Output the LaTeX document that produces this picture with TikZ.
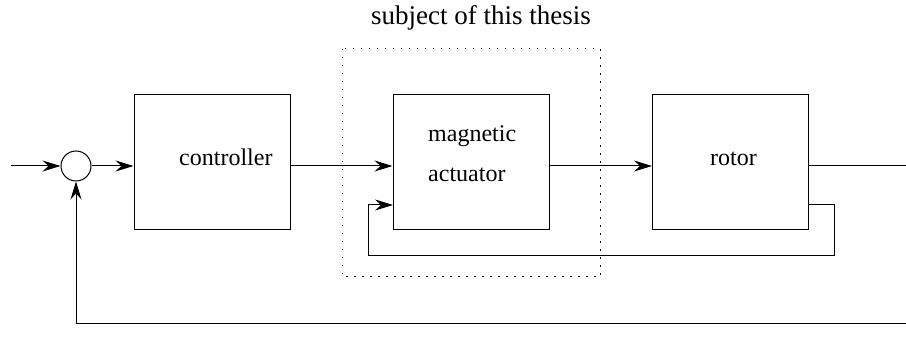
\documentclass[tikz,border=0pt]{standalone}
\usepackage{fontspec}
\setmainfont{Liberation Serif}
\usetikzlibrary{arrows.meta}
\tikzset{
  blk/.style={draw, line width=1pt, minimum width=156pt, minimum height=135pt, inner sep=0pt},
  lbl/.style={anchor=base west, inner sep=0pt, font=\fontsize{24}{28}\selectfont},
  hd/.style={anchor=base west, inner sep=0pt, font=\fontsize{27}{32}\selectfont},
  wire/.style={line width=1pt},
  arr/.style={wire, -{Stealth[length=18pt,width=11pt,inset=6pt]}},
  sumc/.style={draw, circle, line width=1pt, minimum size=30pt, inner sep=0pt},
  frame/.style={line width=1pt, dash pattern=on 1.5pt off 6.5pt}
}
\begin{document}
\begin{tikzpicture}[x=1pt,y=-1pt]
\useasboundingbox (0,0) rectangle (906,339);
% boxes
\node[blk] (ctrl) at (212,162.5) {};
\node[blk] (act) at (471,162.5) {};
\node[blk] (rot) at (730.5,162.5) {};
\node[sumc] (sum) at (76,166) {};
% labels
\node[lbl] (tctrl) at (179,166) {controller};
\node[lbl] (tact1) at (428,142) {magnetic};
\node[lbl] (tact2) at (428,182) {actuator};
\node[lbl] (trot) at (710,166) {rotor};
\node[hd] (thead) at (371,25) {subject of this thesis};
% dotted frame
\coordinate (f1) at (342,49);
\coordinate (f2) at (600,277);
\draw[frame] (f1) rectangle (f2);
% coordinates
\coordinate (in) at (11,166);
\coordinate (out) at (906,166);
\coordinate (fbA) at (808,205);
\coordinate (fbB) at (834,205);
\coordinate (fbC) at (834,256);
\coordinate (fbD) at (368,256);
\coordinate (fbE) at (368,205);
\coordinate (fbF) at (393,205);
\coordinate (obA) at (906,324);
\coordinate (obB) at (76,324);
% connectors
\draw[arr] (in) -- (sum.west);
\draw[arr] (sum.east) -- (ctrl.west |- sum.east);
\draw[arr] (ctrl.east |- sum.east) -- (act.west |- sum.east);
\draw[arr] (act.east |- sum.east) -- (rot.west |- sum.east);
\draw[wire] (rot.east |- sum.east) -- (out);
\draw[arr] (fbA) -- (fbB) -- (fbC) -- (fbD) -- (fbE) -- (fbF);
\draw[arr] (obA) -- (obB) -- (sum.south);
\end{tikzpicture}
\end{document}
